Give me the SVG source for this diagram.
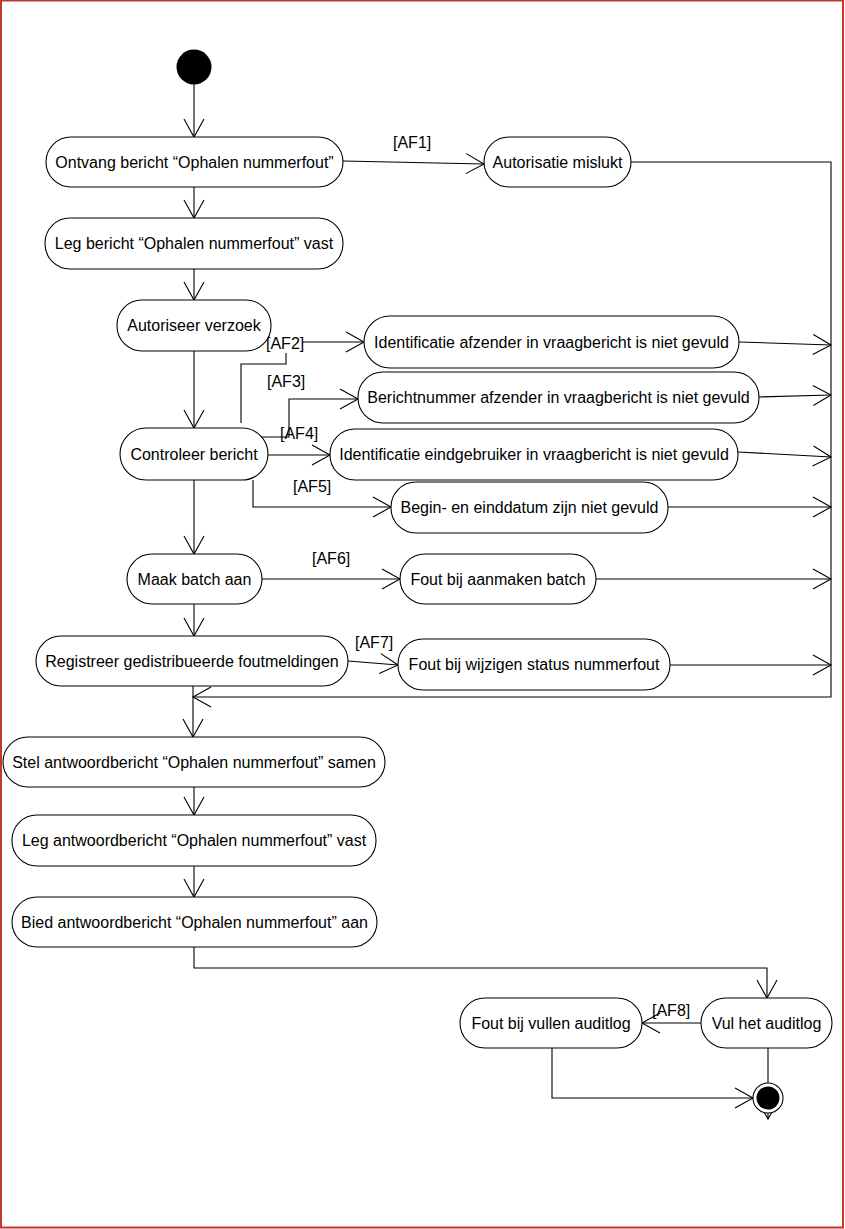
<svg xmlns="http://www.w3.org/2000/svg" width="845" height="1229" viewBox="0 0 845 1229">
<style>
.n{fill:#fff;stroke:#000;stroke-width:1.1}
.t{font-family:"Liberation Sans",Arial,sans-serif;font-size:16px;fill:#000;text-anchor:middle}
.l{font-family:"Liberation Sans",Arial,sans-serif;font-size:16px;fill:#000}
.c{fill:none;stroke:#000;stroke-width:1.1}
.a{marker-end:url(#ah)}
</style>
<defs>
<marker id="ah" markerUnits="userSpaceOnUse" markerWidth="24" markerHeight="24" viewBox="-20 -12 24 24" refX="0" refY="0" orient="auto">
<path d="M-18,-10 L0,0 L-18,10" fill="none" stroke="#000" stroke-width="1.1"/>
</marker>
</defs>
<rect x="0" y="0" width="845" height="1229" fill="#fff"/>
<rect x="1" y="0.5" width="842" height="1227" fill="none" stroke="#c0392b" stroke-width="2"/>

<g id="connectors">
<line class="c a" x1="194" y1="84" x2="194" y2="137"/>
<line class="c a" x1="194" y1="187" x2="194" y2="218"/>
<line class="c a" x1="194" y1="269" x2="194" y2="300"/>
<line class="c a" x1="194" y1="351" x2="194" y2="428"/>
<line class="c a" x1="194" y1="480" x2="194" y2="554"/>
<line class="c a" x1="194" y1="604" x2="194" y2="636"/>
<line class="c a" x1="193" y1="686" x2="193" y2="737"/>
<line class="c a" x1="194" y1="787" x2="194" y2="815"/>
<line class="c a" x1="194" y1="866" x2="194" y2="897"/>
<polyline class="c a" points="194,947 194,968 767,968 767,998"/>
<line class="c a" x1="343" y1="161" x2="484" y2="164"/>
<polyline class="c a" points="631,162 831,162 831,697 193,697"/>
<polyline class="c" points="241,423 241,364 286,364 286,353"/>
<line class="c a" x1="303" y1="342" x2="364" y2="342"/>
<polyline class="c a" points="259,437 289,437 289,399 358,399"/>
<line class="c a" x1="268" y1="455" x2="330" y2="455"/>
<polyline class="c a" points="253,480 253,507 391,507"/>
<line class="c a" x1="739" y1="342" x2="831" y2="345"/>
<line class="c a" x1="759" y1="397" x2="831" y2="395"/>
<line class="c a" x1="738" y1="452" x2="831" y2="457"/>
<line class="c a" x1="668" y1="507" x2="831" y2="507"/>
<line class="c a" x1="262" y1="579" x2="400" y2="579"/>
<line class="c a" x1="596" y1="579" x2="831" y2="579"/>
<line class="c a" x1="348" y1="661" x2="398" y2="665"/>
<line class="c a" x1="670" y1="665" x2="831" y2="665"/>
<line class="c a" x1="701" y1="1023" x2="642" y2="1023"/>
<polyline class="c a" points="552,1048 552,1098 753,1098"/>
<line class="c a" x1="768" y1="1048" x2="768" y2="1119"/>
<text class="l" x="393" y="148">[AF1]</text>
<text class="l" x="266" y="349">[AF2]</text>
<text class="l" x="267" y="387">[AF3]</text>
<text class="l" x="280" y="439">[AF4]</text>
<text class="l" x="293" y="492">[AF5]</text>
<text class="l" x="312" y="564">[AF6]</text>
<text class="l" x="355" y="648">[AF7]</text>
<text class="l" x="652" y="1016">[AF8]</text>
</g>

<g id="start"><circle cx="194" cy="67" r="17.5" fill="#000"/></g>

<g id="ontvang"><rect class="n" x="46" y="137" width="297" height="50" rx="25"/><text class="t" x="194.5" y="167.5">Ontvang bericht “Ophalen nummerfout”</text></g>
<g id="leg"><rect class="n" x="45" y="218" width="298" height="51" rx="25"/><text class="t" x="194" y="249">Leg bericht “Ophalen nummerfout” vast</text></g>
<g id="autoriseer"><rect class="n" x="117" y="300" width="154" height="51" rx="25"/><text class="t" x="194" y="331">Autoriseer verzoek</text></g>
<g id="controleer"><rect class="n" x="120" y="428" width="148" height="52" rx="26"/><text class="t" x="194" y="459.5">Controleer bericht</text></g>
<g id="autorisatie"><rect class="n" x="484" y="137" width="147" height="50" rx="25"/><text class="t" x="557.5" y="167.5">Autorisatie mislukt</text></g>
<g id="identAfz"><rect class="n" x="364" y="316" width="375" height="52" rx="26"/><text class="t" x="551.5" y="347.5">Identificatie afzender in vraagbericht is niet gevuld</text></g>
<g id="berichtnr"><rect class="n" x="358" y="372" width="401" height="51" rx="25"/><text class="t" x="558.5" y="403">Berichtnummer afzender in vraagbericht is niet gevuld</text></g>
<g id="identEind"><rect class="n" x="330" y="429" width="408" height="51" rx="25"/><text class="t" x="534" y="460">Identificatie eindgebruiker in vraagbericht is niet gevuld</text></g>
<g id="begin"><rect class="n" x="391" y="482" width="277" height="51" rx="25"/><text class="t" x="529.5" y="513">Begin- en einddatum zijn niet gevuld</text></g>
<g id="maak"><rect class="n" x="127" y="554" width="135" height="50" rx="25"/><text class="t" x="194.5" y="584.5">Maak batch aan</text></g>
<g id="foutBatch"><rect class="n" x="400" y="554" width="196" height="50" rx="25"/><text class="t" x="498" y="584.5">Fout bij aanmaken batch</text></g>
<g id="registreer"><rect class="n" x="36" y="636" width="312" height="50" rx="25"/><text class="t" x="192" y="666.5">Registreer gedistribueerde foutmeldingen</text></g>
<g id="foutWijz"><rect class="n" x="398" y="639" width="272" height="51" rx="25"/><text class="t" x="534" y="670">Fout bij wijzigen status nummerfout</text></g>
<g id="stel"><rect class="n" x="3" y="737" width="382" height="50" rx="25"/><text class="t" x="194" y="767.5">Stel antwoordbericht “Ophalen nummerfout” samen</text></g>
<g id="legAntw"><rect class="n" x="12" y="815" width="364" height="51" rx="25"/><text class="t" x="194" y="846">Leg antwoordbericht “Ophalen nummerfout” vast</text></g>
<g id="bied"><rect class="n" x="12" y="897" width="365" height="50" rx="25"/><text class="t" x="194.5" y="927.5">Bied antwoordbericht “Ophalen nummerfout” aan</text></g>
<g id="vul"><rect class="n" x="701" y="998" width="131" height="50" rx="25"/><text class="t" x="766.5" y="1028.5">Vul het auditlog</text></g>
<g id="foutAudit"><rect class="n" x="460" y="998" width="182" height="50" rx="25"/><text class="t" x="551" y="1028.5">Fout bij vullen auditlog</text></g>
<g id="final"><circle cx="768" cy="1098" r="15" fill="#fff" stroke="#000" stroke-width="1.1"/><circle cx="768" cy="1098" r="11.5" fill="#000"/></g>
</svg>
